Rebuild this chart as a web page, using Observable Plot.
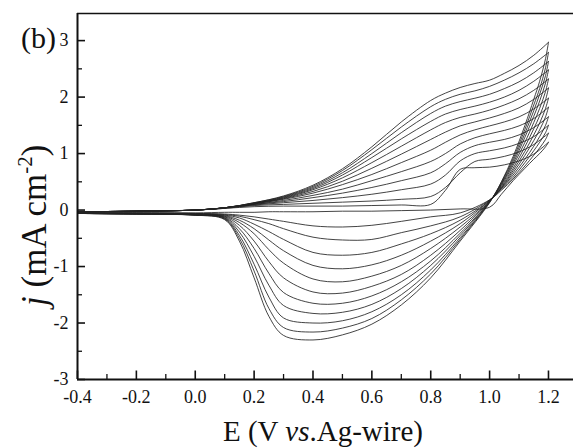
<!DOCTYPE html>
<html><head><meta charset="utf-8">
<script src="https://cdn.jsdelivr.net/npm/d3@7"></script>
<script src="https://cdn.jsdelivr.net/npm/@observablehq/plot@0.6"></script>
<style>
html,body{margin:0;padding:0;background:#fff;}
svg{display:block;}
</style></head><body><div id="chart"></div>
<script>
// Potential grids (V vs. Ag-wire)
const eForward = [-0.4, -0.2, 0, 0.1, 0.2, 0.3, 0.4, 0.5, 0.6, 0.7, 0.8, 0.85, 0.9, 0.95, 1.0, 1.05, 1.1, 1.15, 1.2];
const eReverse = [1.2, 1.19, 1.17, 1.15, 1.12, 1.08, 1.04, 1.0, 0.9, 0.8, 0.7, 0.6, 0.5, 0.4, 0.3, 0.25, 0.2, 0.15, 0.1, 0.0, -0.2, -0.4];

// Anodic (forward) sweeps, cycles 1..12, j in mA cm^-2
const anodic = [
  [-0.03,-0.02,0.0,0.03,0.06,0.07,0.07,0.07,0.08,0.09,0.10,0.35,0.72,0.75,0.76,0.80,0.87,0.99,1.20],
  [-0.03,-0.02,0.0,0.03,0.08,0.10,0.12,0.14,0.16,0.19,0.24,0.40,0.66,0.86,0.90,0.95,1.03,1.16,1.36],
  [-0.03,-0.02,0.0,0.04,0.09,0.13,0.17,0.22,0.28,0.36,0.46,0.62,0.87,1.00,1.05,1.10,1.18,1.30,1.50],
  [-0.03,-0.02,0.0,0.04,0.10,0.15,0.22,0.30,0.40,0.52,0.66,0.82,1.02,1.14,1.20,1.25,1.33,1.46,1.65],
  [-0.03,-0.02,0.0,0.04,0.10,0.17,0.26,0.37,0.52,0.68,0.86,1.00,1.17,1.28,1.35,1.41,1.49,1.62,1.82],
  [-0.03,-0.02,0.0,0.04,0.11,0.19,0.30,0.45,0.63,0.84,1.06,1.20,1.33,1.42,1.49,1.56,1.65,1.79,1.98],
  [-0.03,-0.02,0.0,0.04,0.11,0.20,0.33,0.51,0.74,0.99,1.25,1.38,1.49,1.56,1.63,1.71,1.81,1.96,2.16],
  [-0.03,-0.02,0.0,0.04,0.12,0.21,0.36,0.57,0.84,1.13,1.42,1.55,1.64,1.70,1.77,1.86,1.97,2.12,2.32],
  [-0.03,-0.02,0.0,0.04,0.12,0.22,0.38,0.62,0.93,1.26,1.57,1.70,1.78,1.84,1.91,2.00,2.12,2.28,2.48],
  [-0.03,-0.02,0.0,0.04,0.12,0.23,0.40,0.66,1.00,1.37,1.71,1.84,1.92,1.98,2.05,2.15,2.27,2.43,2.63],
  [-0.03,-0.02,0.0,0.04,0.13,0.24,0.42,0.70,1.07,1.47,1.83,1.96,2.05,2.11,2.19,2.30,2.43,2.59,2.79],
  [-0.03,-0.02,0.0,0.04,0.13,0.25,0.44,0.73,1.12,1.56,1.94,2.07,2.17,2.24,2.30,2.42,2.56,2.74,2.97]
];

// Cathodic (reverse) sweeps, cycles 1..12
const cathodic = [
  [1.20,1.12,1.00,0.90,0.74,0.52,0.28,0.05,0.02,0.00,-0.01,-0.02,-0.02,-0.03,-0.03,-0.03,-0.04,-0.04,-0.04,-0.05,-0.05,-0.05],
  [1.36,1.25,1.10,0.97,0.78,0.55,0.35,0.18,-0.05,-0.12,-0.20,-0.27,-0.30,-0.28,-0.20,-0.16,-0.12,-0.09,-0.07,-0.06,-0.05,-0.05],
  [1.50,1.37,1.20,1.05,0.84,0.58,0.37,0.18,-0.12,-0.28,-0.40,-0.52,-0.53,-0.48,-0.33,-0.24,-0.17,-0.11,-0.08,-0.06,-0.05,-0.05],
  [1.65,1.50,1.30,1.13,0.90,0.62,0.38,0.17,-0.18,-0.42,-0.60,-0.75,-0.80,-0.75,-0.52,-0.38,-0.25,-0.14,-0.09,-0.07,-0.06,-0.05],
  [1.82,1.65,1.42,1.23,0.97,0.66,0.39,0.17,-0.24,-0.55,-0.80,-0.97,-1.04,-0.98,-0.72,-0.53,-0.33,-0.18,-0.10,-0.07,-0.06,-0.05],
  [1.98,1.80,1.54,1.33,1.04,0.70,0.40,0.16,-0.30,-0.68,-0.98,-1.17,-1.27,-1.22,-0.94,-0.70,-0.42,-0.22,-0.11,-0.08,-0.06,-0.06],
  [2.16,1.95,1.67,1.44,1.12,0.74,0.42,0.16,-0.36,-0.80,-1.14,-1.35,-1.47,-1.45,-1.20,-0.91,-0.55,-0.27,-0.12,-0.08,-0.07,-0.06],
  [2.32,2.10,1.80,1.55,1.20,0.79,0.44,0.15,-0.41,-0.90,-1.27,-1.52,-1.65,-1.65,-1.46,-1.12,-0.68,-0.33,-0.13,-0.08,-0.07,-0.06],
  [2.48,2.25,1.93,1.66,1.29,0.83,0.46,0.15,-0.45,-0.98,-1.39,-1.67,-1.81,-1.83,-1.69,-1.33,-0.82,-0.39,-0.14,-0.09,-0.07,-0.06],
  [2.63,2.38,2.05,1.76,1.36,0.87,0.47,0.14,-0.49,-1.06,-1.50,-1.80,-1.96,-2.00,-1.91,-1.54,-0.96,-0.45,-0.15,-0.09,-0.07,-0.06],
  [2.79,2.52,2.15,1.86,1.43,0.91,0.49,0.14,-0.52,-1.13,-1.59,-1.92,-2.09,-2.16,-2.08,-1.74,-1.08,-0.50,-0.16,-0.09,-0.07,-0.06],
  [2.97,2.68,2.28,1.96,1.50,0.95,0.50,0.13,-0.55,-1.20,-1.68,-2.02,-2.21,-2.30,-2.22,-1.88,-1.20,-0.55,-0.17,-0.09,-0.07,-0.06]
];

// Axis tick values
const xMajor = [-0.4, -0.2, 0.0, 0.2, 0.4, 0.6, 0.8, 1.0, 1.2];
const xMinor = [-0.3, -0.1, 0.1, 0.3, 0.5, 0.7, 0.9, 1.1];
const yMajor = [-3, -2, -1, 0, 1, 2, 3];
const yMinor = [-2.5, -1.5, -0.5, 0.5, 1.5, 2.5];
const xDomain = [-0.4, 1.285];
const yDomain = [-3, 3.48];

const rows = [];
anodic.forEach((vals, c) => vals.forEach((j, i) => rows.push({E: eForward[i], j, id: "a" + c})));
cathodic.forEach((vals, c) => vals.forEach((j, i) => rows.push({E: eReverse[i], j, id: "c" + c})));

const ink = "#111";
const plot = Plot.plot({
  width: 573, height: 448,
  marginLeft: 77, marginRight: 0, marginTop: 13, marginBottom: 69,
  x: {domain: xDomain},
  y: {domain: yDomain},
  style: {fontFamily: "'Liberation Serif', 'Times New Roman', serif", fontSize: "18px", color: ink, background: "#fff", overflow: "visible"},
  marks: [
    Plot.line(rows, {x: "E", y: "j", z: "id", stroke: "#222", strokeWidth: 0.85, curve: "catmull-rom"}),
    Plot.axisX({ticks: xMajor, tickSize: -8.5, tickFormat: () => "", label: null, strokeWidth: 1.6, stroke: ink}),
    Plot.axisX({ticks: xMinor, tickSize: -5, tickFormat: () => "", label: null, strokeWidth: 1.3, stroke: ink}),
    Plot.axisX({ticks: xMajor, tickSize: 0, tickPadding: 11, tickFormat: d => d.toFixed(1), label: null, fontSize: 18, fill: ink}),
    Plot.axisY({ticks: yMajor, tickSize: -8, tickFormat: () => "", label: null, strokeWidth: 1.6, stroke: ink}),
    Plot.axisY({ticks: yMinor, tickSize: -5, tickFormat: () => "", label: null, strokeWidth: 1.3, stroke: ink}),
    Plot.axisY({ticks: yMajor, tickSize: 0, tickPadding: 9, tickFormat: d => String(d), label: null, fontSize: 18, fill: ink}),
    Plot.ruleX([xDomain[0]], {stroke: ink, strokeWidth: 2}),
    Plot.ruleY([yDomain[0]], {stroke: ink, strokeWidth: 2}),
    Plot.ruleY([yDomain[1]], {stroke: ink, strokeWidth: 1.6})
  ]
});
document.getElementById("chart").appendChild(plot);

const svg = d3.select(plot);
const serif = "'Liberation Serif', 'Times New Roman', serif";
// x-axis title
const xt = svg.append("text").attr("x", 223).attr("y", 441).attr("text-anchor", "start")
  .attr("font-family", serif).attr("font-size", 29).attr("fill", ink);
xt.append("tspan").text("E (V ");
xt.append("tspan").attr("font-style", "italic").text("vs");
xt.append("tspan").text(".Ag-wire)");
// y-axis title
const yt = svg.append("text").attr("transform", "translate(46,306) rotate(-90)").attr("text-anchor", "start")
  .attr("font-family", serif).attr("font-size", 35).attr("fill", ink);
yt.append("tspan").attr("font-style", "italic").text("j");
yt.append("tspan").text(" (mA cm");
yt.append("tspan").attr("font-size", 21).attr("dy", -14).text("-2");
yt.append("tspan").attr("dy", 14).text(")");
// panel label
svg.append("text").attr("x", 21).attr("y", 48).attr("text-anchor", "start")
  .attr("font-family", serif).attr("font-size", 30).attr("fill", ink).text("(b)");
</script></body></html>
